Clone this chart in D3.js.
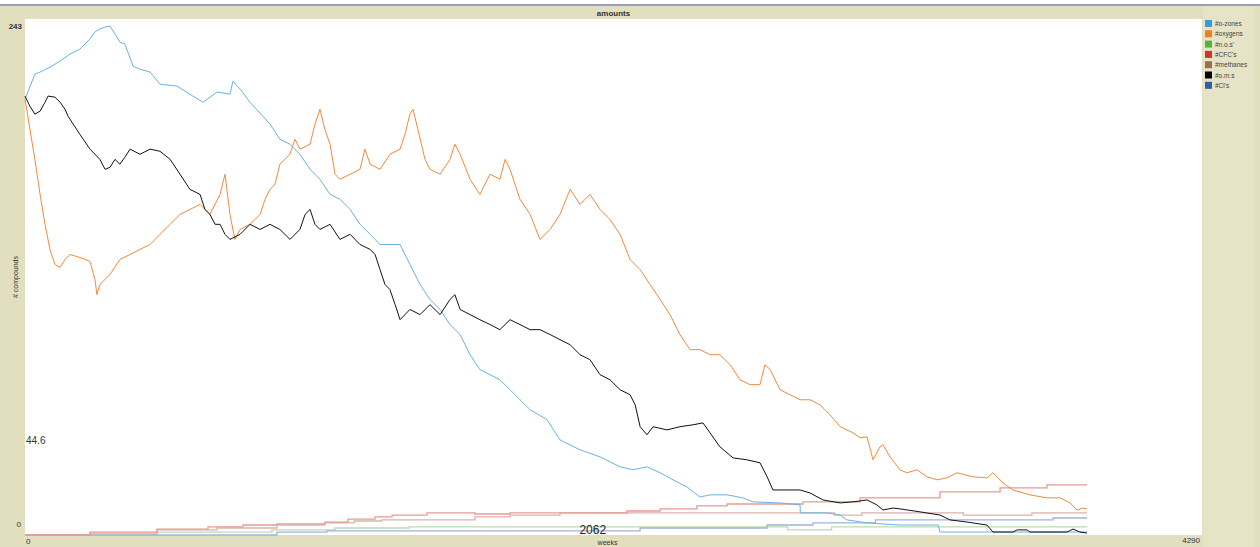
<html>
<head>
    <title>amounts</title>
    <script src="https://d3js.org/d3.v7.min.js"></script>
    <style>
        body { margin: 0; background: #fff; }
        text { font-family: "Liberation Sans", Arial, sans-serif; }
    </style>
</head>
<body>
<svg id="plot" width="1260" height="547"></svg>
<script>
    // legend / series
    const seriesNames = ["#o-zones", "#oxygens", "#n.o.s'", "#CFC's", "#methanes", "#o.m.s", "#Cl's"];
    const swatchColors = ["#3a9ad6", "#f07d28", "#59b03c", "#d7322a", "#9d6e48", "#000000", "#345da8"];
    const lineColors = ["#6cb2de", "#f08a3e", "#b9dbb1", "#e89a94", "#dcb3aa", "#111111", "#9fb4dc"];

    const xMax = 4290, yMax = 243;
    const cursorX = 2062, cursorY = 44.6;

    // [week, amount]
    const ozones = [[0,205.3],[36,217.0],[55,218.0],[91,220.3],[128,223.2],[164,226.5],[200,228.8],[237,233.6],
        [255,236.9],[273,238.3],[292,239.2],[310,239.7],[328,235.9],[346,232.1],[364,231.2],[394,220.8],[419,219.4],
        [456,218.0],[492,212.3],[554,211.4],[612,206.7],[649,203.8],[700,208.6],[747,207.6],[758,213.7],[784,210.0],
        [820,203.8],[867,197.2],[893,193.5],[929,186.4],[966,184.0],[1002,179.3],[1039,172.2],[1075,167.5],[1112,160.4],
        [1148,158.1],[1185,153.3],[1221,146.3],[1258,141.6],[1294,136.8],[1330,136.8],[1367,136.8],[1403,127.4],
        [1440,118.0],[1476,110.9],[1513,106.2],[1549,99.1],[1586,94.4],[1622,84.9],[1658,77.9],[1695,75.5],[1731,73.1],
        [1768,68.4],[1804,63.7],[1841,59.0],[1903,54.3],[1950,44.8],[2023,40.1],[2096,36.8],[2169,32.1],[2216,30.7],
        [2267,32.1],[2315,29.3],[2362,26.0],[2413,22.6],[2460,17.9],[2497,18.9],[2559,18.9],[2617,17.5],[2654,15.6],
        [2752,15.1],[2825,14.2],[2826,10.4],[2923,10.4],[2971,9.4],[2996,7.1],[3069,5.7],[3189,4.7],[3328,4.7],
        [3335,1.4],[3871,1.4]];

    const oxygens = [[0,205.3],[18,191.1],[36,176.9],[55,160.4],[73,146.3],[91,134.5],[109,127.4],[128,126.0],
        [146,129.8],[164,132.1],[200,130.7],[237,128.8],[255,120.3],[262,113.2],[273,118.0],[310,122.7],[346,129.8],
        [383,132.1],[419,134.5],[456,136.8],[492,141.6],[529,146.3],[565,151.0],[601,153.3],[638,155.7],[674,151.0],
        [711,160.4],[729,169.9],[747,151.0],[765,139.2],[784,143.9],[820,146.3],[857,151.0],[875,158.1],[893,162.8],
        [911,165.1],[929,174.6],[966,179.3],[984,186.4],[1002,181.7],[1039,184.0],[1057,193.5],[1075,200.5],
        [1093,191.1],[1112,184.0],[1130,169.9],[1148,167.5],[1185,169.9],[1221,172.2],[1239,181.7],[1258,174.6],
        [1294,172.2],[1330,179.3],[1367,181.7],[1385,188.7],[1403,198.2],[1414,200.5],[1432,191.1],[1458,176.9],
        [1476,172.2],[1513,169.9],[1549,176.9],[1567,184.0],[1586,179.3],[1622,167.5],[1658,160.4],[1695,169.9],
        [1731,167.5],[1750,176.9],[1768,172.2],[1804,158.1],[1841,151.0],[1877,139.2],[1914,143.9],[1950,151.0],
        [1987,162.8],[2023,155.7],[2059,160.4],[2096,153.3],[2132,148.6],[2169,141.6],[2205,129.8],[2242,125.0],
        [2278,118.0],[2315,110.9],[2351,103.8],[2387,94.4],[2424,87.3],[2460,87.3],[2497,84.9],[2533,84.9],
        [2570,80.2],[2606,73.1],[2643,70.8],[2679,70.8],[2697,80.2],[2716,77.9],[2752,68.4],[2788,66.1],[2825,63.7],
        [2861,63.7],[2898,61.3],[2934,56.6],[2971,51.0],[3018,48.1],[3044,45.8],[3069,46.2],[3091,35.4],[3116,41.5],
        [3127,42.5],[3153,36.8],[3189,30.7],[3215,29.3],[3251,30.7],[3288,27.4],[3324,26.0],[3361,26.9],[3397,29.3],
        [3455,27.4],[3506,26.9],[3528,29.3],[3565,24.5],[3601,21.2],[3663,18.9],[3725,17.5],[3773,17.5],[3809,15.1],
        [3834,11.8],[3856,12.7],[3871,12.3]];

    const nos = [[0,0],[480,1.4],[900,2.4],[1130,3.3],[1400,3.8],[2700,3.8],[2780,2.4],[2940,3.8],[3871,3.8]];

    const cfcs = [[0,0],[237,1.4],[481,2.8],[667,3.8],[795,4.7],[918,5.2],[1093,6.1],[1177,7.5],[1276,8.5],
        [1338,9.4],[1465,10.4],[1640,9.9],[1768,10.4],[2194,11.3],[2315,12.3],[2449,13.7],[2559,14.6],[2836,15.6],
        [3044,17.5],[3226,17.5],[3335,20.3],[3554,22.2],[3725,23.6],[3871,23.6]];

    const methanes = [[0,0],[237,0.9],[481,2.4],[700,3.3],[918,4.7],[1093,5.7],[1200,6.6],[1300,7.1],[1440,7.1],
        [1640,8.5],[1768,9.4],[1950,10.4],[2900,10.4],[2950,9.4],[3050,10.4],[3400,10.4],[3420,9.4],[3650,9.4],
        [3670,10.4],[3871,10.4]];

    const oms = [[0,206.7],[18,201.9],[36,198.2],[55,199.6],[73,203.8],[84,206.7],[109,206.2],[128,203.8],
        [146,200.5],[157,197.2],[164,195.8],[200,188.7],[237,181.7],[273,176.9],[292,172.2],[310,173.2],[328,176.9],
        [346,174.6],[364,177.9],[383,181.7],[419,179.3],[456,181.7],[492,180.7],[529,176.9],[565,169.9],[601,162.8],
        [638,160.4],[656,153.3],[674,151.0],[693,146.3],[711,146.3],[729,141.6],[747,139.2],[784,141.6],[820,146.3],
        [857,143.9],[893,146.3],[929,143.9],[966,139.2],[1002,143.9],[1021,151.0],[1039,153.3],[1057,146.3],
        [1075,143.9],[1112,146.3],[1148,139.2],[1185,141.6],[1221,136.8],[1258,134.5],[1276,132.1],[1294,125.0],
        [1312,118.0],[1330,115.6],[1349,108.5],[1367,101.4],[1403,106.2],[1440,103.8],[1476,108.5],[1513,103.8],
        [1549,110.9],[1567,113.2],[1586,106.2],[1622,103.8],[1658,101.4],[1695,99.1],[1731,96.7],[1768,101.4],
        [1804,99.1],[1841,96.7],[1877,96.7],[1914,94.4],[1950,92.0],[1987,89.6],[2023,84.9],[2059,82.6],[2096,75.5],
        [2132,73.1],[2169,68.4],[2205,66.1],[2224,61.3],[2242,51.0],[2267,47.2],[2289,51.0],[2340,49.5],[2387,51.0],
        [2435,51.9],[2471,52.8],[2497,48.1],[2533,41.5],[2581,36.3],[2632,35.4],[2679,34.0],[2705,27.4],[2726,21.2],
        [2777,21.2],[2825,21.2],[2861,19.8],[2909,16.5],[2971,15.1],[3018,15.6],[3069,16.5],[3105,14.2],[3127,11.8],
        [3164,12.7],[3189,12.3],[3262,10.9],[3335,9.4],[3372,7.1],[3434,6.1],[3506,4.7],[3528,1.4],[3601,1.4],
        [3616,2.4],[3652,2.4],[3663,1.4],[3798,1.4],[3820,2.8],[3845,1.4],[3871,0.9]];

    const cls = [[0,0],[918,1.4],[1100,1.9],[2242,3.3],[2705,4.7],[2872,5.7],[3100,7.1],[3747,8.0],[3871,8.0]];

    // draw order: low step series first, then the big three
    const series = [
        {data: nos, i: 2, step: true},
        {data: methanes, i: 4, step: true},
        {data: cls, i: 6, step: true},
        {data: cfcs, i: 3, step: true},
        {data: ozones, i: 0, step: false},
        {data: oxygens, i: 1, step: false},
        {data: oms, i: 5, step: false}
    ];

    const svg = d3.select("#plot");
    const plot = {left: 25, right: 1202, top: 19, bottom: 535};

    // frame
    svg.append("rect").attr("x", 0).attr("y", 6).attr("width", 1260).attr("height", 541).attr("fill", "#e2dfbf");
    svg.append("rect").attr("x", 1203).attr("y", 6).attr("width", 51).attr("height", 541).attr("fill", "#e6e3c6");
    svg.append("rect").attr("x", 0).attr("y", 4).attr("width", 1260).attr("height", 2).attr("fill", "#9e9db8");
    svg.append("rect").attr("x", plot.left).attr("y", plot.top)
        .attr("width", plot.right - plot.left).attr("height", plot.bottom - plot.top).attr("fill", "#fff");

    const x = d3.scaleLinear().domain([0, xMax]).range([plot.left, plot.right]);
    const y = d3.scaleLinear().domain([0, yMax]).range([plot.bottom, plot.top]);

    series.forEach(s => {
        svg.append("path")
            .datum(s.data)
            .attr("fill", "none")
            .attr("stroke", lineColors[s.i])
            .attr("stroke-width", s.step ? 1.3 : 1)
            .attr("d", d3.line()
                .curve(s.step ? d3.curveStepAfter : d3.curveLinear)
                .x(d => x(d[0]))
                .y(d => y(d[1])));
    });

    // title and axis labels
    svg.append("text").attr("x", (plot.left + plot.right) / 2).attr("y", 16)
        .attr("text-anchor", "middle").attr("font-size", 8).attr("font-weight", "bold").attr("fill", "#333")
        .text("amounts");

    svg.append("text").attr("x", 22).attr("y", y(yMax) + 10).attr("text-anchor", "end")
        .attr("font-size", 8).attr("font-weight", "bold").attr("fill", "#333").text(yMax);
    svg.append("text").attr("x", 21).attr("y", y(0) - 8).attr("text-anchor", "end")
        .attr("font-size", 8).attr("fill", "#333").text("0");
    svg.append("text").attr("x", x(0) + 1).attr("y", plot.bottom + 9)
        .attr("font-size", 8).attr("fill", "#333").text("0");
    svg.append("text").attr("x", x(xMax) - 2).attr("y", plot.bottom + 8).attr("text-anchor", "end")
        .attr("font-size", 8).attr("fill", "#333").text(xMax);

    svg.append("text").attr("x", (plot.left + plot.right) / 2 - 6).attr("y", 545)
        .attr("text-anchor", "middle").attr("font-size", 7).attr("fill", "#333").text("weeks");
    svg.append("text").attr("transform", "translate(18,277) rotate(-90)")
        .attr("text-anchor", "middle").attr("font-size", 7).attr("fill", "#333").text("# compounds");

    // cursor readouts
    svg.append("text").attr("x", x(0) + 1).attr("y", y(cursorY) + 4)
        .attr("font-size", 10).attr("fill", "#333").text(cursorY);
    svg.append("text").attr("x", x(cursorX) + 2).attr("y", plot.bottom - 1).attr("text-anchor", "middle")
        .attr("font-size", 12).attr("fill", "#222").text(cursorX);

    // legend
    const legend = svg.append("g").attr("transform", "translate(1205,20)");
    seriesNames.forEach((n, i) => {
        legend.append("rect").attr("x", 0).attr("y", i * 10.3).attr("width", 7).attr("height", 7)
            .attr("fill", swatchColors[i]);
        legend.append("text").attr("x", 10).attr("y", i * 10.3 + 6)
            .attr("font-size", 6.5).attr("fill", "#444").text(n);
    });
</script>
</body>
</html>
